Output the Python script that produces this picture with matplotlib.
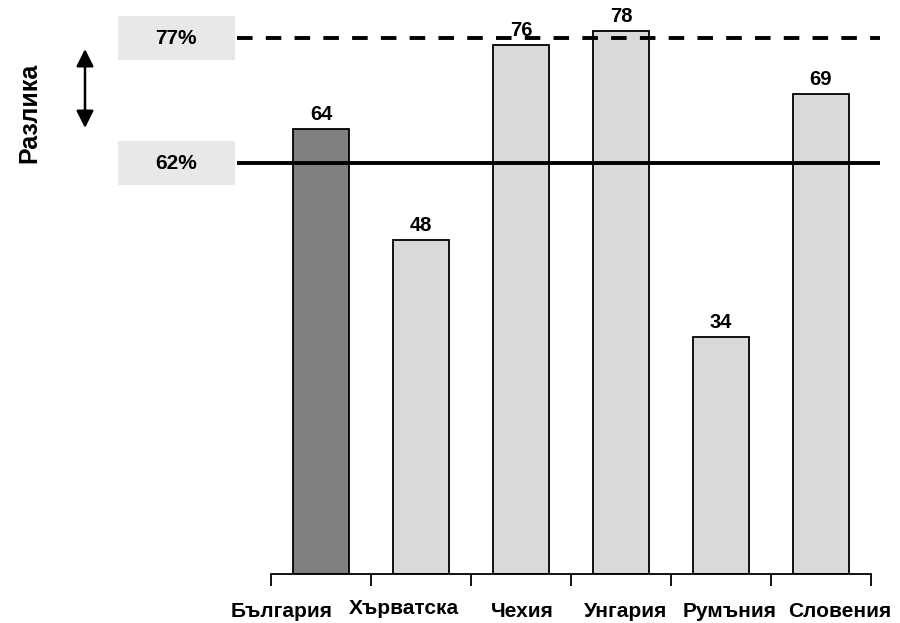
import numpy as np
import matplotlib.pyplot as plt
from matplotlib.patches import Rectangle

### data ###
countries = ['България', 'Хърватска', 'Чехия', 'Унгария', 'Румъния', 'Словения']
values = [64, 48, 76, 78, 34, 69]
highlight = 'България'

# reference lines: where they sit on the chart and what they say
ref_levels = [77, 59]
ref_labels = ['77%', '62%']
ref_styles = ['--', '-']

# category labels are not quite centred under the bars (pixel nudges)
lab_dx = [-39, -17, 1, 5, 9, 19]
lab_dy = [0, 3, 0, 0, 0, 0]

plt.rcParams['font.family'] = ['Liberation Sans', 'DejaVu Sans']
plt.rcParams['font.weight'] = 'bold'

W, H = 900, 623
fig = plt.figure(figsize=(9, 6.23), dpi=100)

# axes placed in pixels: zero at y=574, ~6.96 px per unit, 100 px per category
px_unit = 6.96
y0 = 574
ax = fig.add_axes([237/W, (H-y0)/H, (880-237)/W, (y0-10)/H])
ax.set_xlim(-0.84, 5.59)
ax.set_ylim(0, (y0-10)/px_unit)

x = np.arange(len(countries))
colors = ['#808080' if c == highlight else '#d9d9d9' for c in countries]
bars = ax.bar(x, values, width=0.56, color=colors, edgecolor='black',
              linewidth=1.3, zorder=2)
for xi, v in zip(x, values):
    ax.text(xi, v + 0.7, str(v), ha='center', va='bottom', fontsize=14.5,
            fontweight='bold', zorder=4)

### reference lines ###
for lev, style in zip(ref_levels, ref_styles):
    if style == '--':
        ax.axhline(lev, color='black', lw=2.8, ls=(0, (4.0, 3.4)), zorder=3)
    else:
        ax.axhline(lev, color='black', lw=2.8, zorder=3)

### spines / ticks ###
for s in ['left', 'right', 'top']:
    ax.spines[s].set_visible(False)
ax.spines['bottom'].set_bounds(-0.5, len(countries) - 0.5)
ax.spines['bottom'].set_linewidth(1.3)
ax.set_yticks([])
ax.set_xticks([])
ax.set_xticks(np.arange(-0.5, len(countries)), minor=True)
ax.tick_params(axis='x', which='minor', length=8.5, width=1.3, direction='out',
               labelbottom=False)

for xi, name, dx, dy in zip(x, countries, lab_dx, lab_dy):
    ax.annotate(name, xy=(xi, 0), xycoords=('data', 'axes fraction'),
                xytext=(dx, -43 + dy), textcoords='offset pixels',
                ha='center', va='baseline', fontsize=15, fontweight='bold',
                annotation_clip=False)

### label boxes on the left ###
for lev, lab in zip(ref_levels, ref_labels):
    yc = y0 - lev * px_unit
    box = Rectangle((118/W, (H - yc - 22)/H), 117/W, 44/H,
                    transform=fig.transFigure, facecolor='#e8e8e8',
                    edgecolor='none')
    fig.patches.append(box)
    fig.text(176/W, (H - yc)/H, lab, ha='center', va='center',
             fontsize=15, fontweight='bold')

### difference arrow and label ###
ax.annotate('', xy=(85/W, (H-49)/H), xytext=(85/W, (H-128)/H),
            xycoords='figure fraction', textcoords='figure fraction',
            arrowprops=dict(arrowstyle='<|-|>', color='black', lw=1.8,
                            mutation_scale=26, shrinkA=0, shrinkB=0))
fig.text(29/W, (H-113)/H, 'Разлика', rotation=90, ha='center', va='center',
         fontsize=18, fontweight='bold')

plt.savefig('out.png', dpi=100)
